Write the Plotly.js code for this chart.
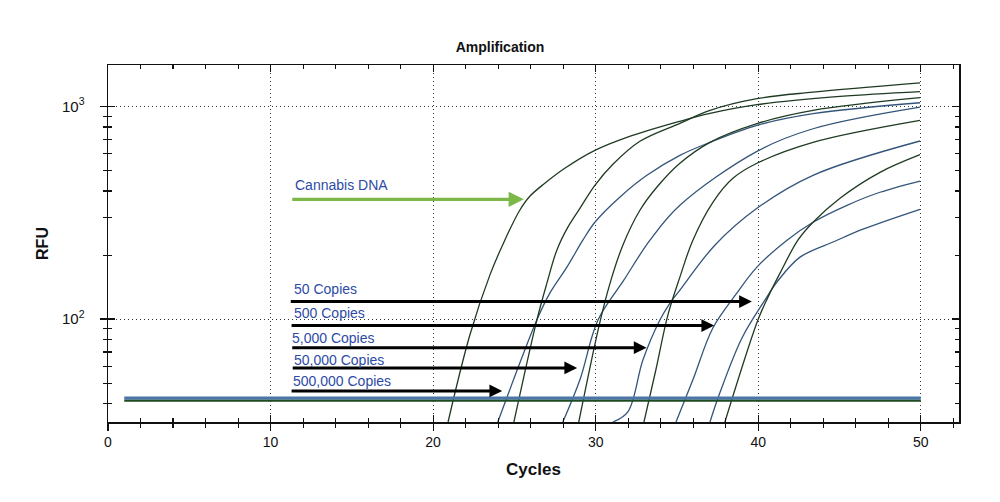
<!DOCTYPE html>
<html><head><meta charset="utf-8">
<script src="https://cdn.plot.ly/plotly-3.0.1.min.js"></script>
<style>html,body{margin:0;padding:0;background:#fff}#chart{width:1000px;height:502px}</style>
</head><body><div id="chart"></div>
<script>
// ---- data ----
const c1Cycles = [20.92, 22.26, 23.49, 24.41, 25.33, 25.95, 26.87, 28.1, 29.95, 31.92, 35.18, 37.03, 39.92, 45.03, 49.95];
const c1Rfu    = [32.8, 84.1, 160.9, 235, 324.9, 378.1, 435, 511.7, 621, 715, 851, 927, 1019, 1114, 1175];
const c2Cycles = [23.98, 26.38, 27.18, 28.23, 29.21, 29.95, 31.48, 33.15, 35.18, 37.03, 39.92, 43.37, 49.95];
const c2Rfu    = [32.8, 98.9, 132.4, 175.5, 235, 285.3, 374.2, 474.2, 588.6, 677.6, 814.7, 924.6, 1040.8];
const c3Cycles = [24.97, 26.38, 27.0, 27.61, 28.29, 29.03, 29.95, 31.06, 32.72, 35.18, 37.03, 39.92, 43.37, 49.95];
const c3Rfu    = [32.8, 98.9, 147.5, 210.9, 270.5, 331.8, 425.6, 534.3, 685.5, 832.6, 957.7, 1087, 1167.5, 1291];
const c4Cycles = [27.98, 29.03, 30.14, 31.73, 33.34, 35.18, 39.92, 43.37, 49.95];
const c4Rfu    = [32.8, 51.8, 98.9, 152.4, 235, 342.8, 614.8, 785.2, 992.5];
const c5Cycles = [28.96, 30.26, 30.94, 31.67, 32.72, 33.76, 35.18, 37.03, 39.92, 43.37, 49.95];
const c5Rfu    = [32.8, 96.8, 152.4, 222.5, 324.9, 416.6, 540.1, 677.6, 830, 957.7, 1099];
const c6Cycles = [31.06, 31.98, 32.91, 33.95, 34.57, 35.18, 37.33, 39.92, 43.37, 49.95];
const c6Rfu    = [32.8, 36.6, 64.3, 98.9, 118.8, 136.8, 222.5, 331.8, 474.2, 687.7];
const c7Cycles = [32.97, 33.7, 34.44, 35.18, 35.98, 37.21, 38.44, 39.92, 43.37, 49.95];
const c7Rfu    = [32.8, 57.6, 104.4, 157.5, 235, 354.2, 459, 540.2, 677.6, 859.6];
const c8Cycles = [34.94, 35.98, 37.21, 38.68, 39.92, 41.77, 43.37, 45.46, 47.49, 49.95];
const c8Rfu    = [32.8, 51.8, 90.8, 132.4, 175.5, 235, 285.3, 342.8, 394.8, 445.9];
const c9Cycles = [37.03, 37.64, 39.0, 40.41, 41.15, 42.57, 44.72, 46.44, 49.95];
const c9Rfu    = [32.8, 45.0, 81.5, 122.8, 149.3, 195.5, 232.3, 264.6, 328.3];
const c10Cycles = [37.95, 39.98, 40.60, 41.34, 42.44, 43.37, 45.03, 47.49, 49.95];
const c10Rfu    = [32.8, 98.9, 126.8, 164.4, 235, 285.3, 370, 489.8, 592.9];

const baselineCycles = [1, 50];
const baselineBlueRfu = [42.44, 42.44];
const baselineGreenRfu = [41.3, 41.3];

const arrowLabels = ['50 Copies', '500 Copies', '5,000 Copies', '50,000 Copies', '500,000 Copies'];
const arrowStartCycle = [11.15, 11.2, 11.24, 11.27, 11.2];
const arrowEndCycle = [39.61, 37.29, 33.13, 28.86, 24.25];
const arrowRfu = [120.8, 93.2, 73.3, 58.9, 45.9];
const labelCycle = [11.3, 11.3, 11.2, 11.3, 11.25];
const labelRfu = [138.3, 106.7, 81.5, 64.5, 51.2];

const dnaLabel = 'Cannabis DNA';
const dnaStartCycle = 11.24, dnaEndCycle = 25.58, dnaRfu = 365.8;
const dnaLabelCycle = 11.36, dnaLabelRfu = 425.6;

const xTickVals = [0, 10, 20, 30, 40, 50];
const xTickText = ['0', '10', '20', '30', '40', '50'];
const xMinorVals = [2,4,6,8,12,14,16,18,22,24,26,28,32,34,36,38,42,44,46,48,52];
const yTickVals = [100, 1000];
const yTickText = ['10<sup>2</sup>', '10<sup>3</sup>'];
const yMinorVals = [40,50,60,70,80,90,200,300,400,500,600,700,800,900];

// ---- styling ----
const GREEN = '#1f3a22', BLUE = '#34557a';
const FONT = 'Liberation Sans, Arial, Helvetica, sans-serif';
const curves = [
  [c1Cycles, c1Rfu, GREEN], [c2Cycles, c2Rfu, BLUE], [c3Cycles, c3Rfu, GREEN],
  [c4Cycles, c4Rfu, BLUE], [c5Cycles, c5Rfu, GREEN], [c6Cycles, c6Rfu, BLUE],
  [c7Cycles, c7Rfu, GREEN], [c8Cycles, c8Rfu, BLUE], [c9Cycles, c9Rfu, BLUE],
  [c10Cycles, c10Rfu, GREEN]
];
const traces = curves.map(c => ({
  x: c[0], y: c[1], type: 'scatter', mode: 'lines',
  line: {color: c[2], width: 1.3, shape: 'spline', smoothing: 1.0},
  hoverinfo: 'skip', xaxis: 'x', yaxis: 'y'
}));
traces.push({x: baselineCycles, y: baselineBlueRfu, type: 'scatter', mode: 'lines',
  line: {color: '#4a76a8', width: 3.2}, hoverinfo: 'skip', xaxis: 'x2', yaxis: 'y2'});
traces.push({x: baselineCycles, y: baselineGreenRfu, type: 'scatter', mode: 'lines',
  line: {color: '#1e4a22', width: 2}, hoverinfo: 'skip', xaxis: 'x2', yaxis: 'y2'});

const xRange = [0, 52.35];
const yRange = [Math.log10(32.8), 3.1948];

const annotations = [];
arrowLabels.forEach((lab, i) => {
  annotations.push({
    x: arrowEndCycle[i], y: Math.log10(arrowRfu[i]), xref: 'x', yref: 'y',
    ax: arrowStartCycle[i], ay: Math.log10(arrowRfu[i]), axref: 'x', ayref: 'y',
    showarrow: true, arrowhead: 2, arrowsize: 0.85, arrowwidth: 3, arrowcolor: '#000',
    standoff: 0, startstandoff: 0, text: ''
  });
  annotations.push({
    x: labelCycle[i], y: Math.log10(labelRfu[i]), xref: 'x', yref: 'y',
    text: lab, showarrow: false, xanchor: 'left', yanchor: 'middle',
    font: {family: FONT, size: 14, color: '#2d4ba6'}
  });
});
annotations.push({
  x: dnaEndCycle, y: Math.log10(dnaRfu), xref: 'x', yref: 'y',
  ax: dnaStartCycle, ay: Math.log10(dnaRfu), axref: 'x', ayref: 'y',
  showarrow: true, arrowhead: 2, arrowsize: 0.95, arrowwidth: 3.2, arrowcolor: '#7cb848',
  standoff: 0, text: ''
});
annotations.push({
  x: dnaLabelCycle, y: Math.log10(dnaLabelRfu), xref: 'x', yref: 'y',
  text: dnaLabel, showarrow: false, xanchor: 'left', yanchor: 'middle',
  font: {family: FONT, size: 14, color: '#2d4ba6'}
});

const gridStyle = {showgrid: true, gridcolor: '#333', gridwidth: 1, griddash: '1px,3px'};
const layout = {
  width: 1000, height: 502,
  margin: {l: 108, r: 41, t: 64.5, b: 80},
  paper_bgcolor: '#fff', plot_bgcolor: '#fff',
  showlegend: false,
  font: {family: FONT, color: '#111'},
  title: {text: '<b>Amplification</b>', font: {family: FONT, size: 14, color: '#111'},
    x: 0.5, xanchor: 'center', xref: 'container', y: 1 - 47 / 502, yanchor: 'middle', yref: 'container'},
  xaxis: Object.assign({
    range: xRange, showline: true, linecolor: '#111', linewidth: 1.5, mirror: false,
    ticks: 'outside', ticklen: 7, tickwidth: 1.2, tickcolor: '#111',
    tickmode: 'array', tickvals: xTickVals, ticktext: xTickText,
    tickfont: {family: FONT, size: 14, color: '#111'}, ticklabelstandoff: 0,
    zeroline: false, automargin: false,
    minor: {tickmode: 'array', tickvals: xMinorVals, ticks: 'outside', ticklen: 4, tickwidth: 1.1, tickcolor: '#111', showgrid: false},
    title: {text: '<b>Cycles</b>', font: {family: FONT, size: 17, color: '#111'}, standoff: 14}
  }, gridStyle),
  yaxis: Object.assign({
    type: 'log', range: yRange, showline: true, linecolor: '#111', linewidth: 1.5, mirror: false,
    ticks: 'outside', ticklen: 7, tickwidth: 1.2, tickcolor: '#111',
    tickmode: 'array', tickvals: yTickVals, ticktext: yTickText,
    tickfont: {family: FONT, size: 15, color: '#111'}, ticklabelstandoff: 12,
    zeroline: false, automargin: false,
    minor: {tickmode: 'array', tickvals: yMinorVals, ticks: 'outside', ticklen: 4, tickwidth: 1.1, tickcolor: '#111', showgrid: false},
    title: {text: '<b>RFU</b>', font: {family: FONT, size: 16, color: '#111'}, standoff: 9}
  }, gridStyle),
  xaxis2: {
    overlaying: 'x', anchor: 'y2', range: xRange, showline: true, linecolor: '#111', linewidth: 1.5,
    mirror: 'ticks', ticks: 'inside', ticklen: 7, tickwidth: 1.2, tickcolor: '#111',
    tickmode: 'array', tickvals: xTickVals, showticklabels: false, showgrid: false, zeroline: false,
    minor: {tickmode: 'array', tickvals: xMinorVals, ticks: 'inside', ticklen: 4, tickwidth: 1.1, tickcolor: '#111', showgrid: false}
  },
  yaxis2: {
    overlaying: 'y', anchor: 'x2', type: 'log', range: yRange, showline: true, linecolor: '#111', linewidth: 1.5,
    mirror: 'ticks', ticks: 'inside', ticklen: 7, tickwidth: 1.2, tickcolor: '#111',
    tickmode: 'array', tickvals: yTickVals, showticklabels: false, showgrid: false, zeroline: false,
    minor: {tickmode: 'array', tickvals: yMinorVals, ticks: 'inside', ticklen: 4, tickwidth: 1.1, tickcolor: '#111', showgrid: false}
  },
  annotations: annotations
};

Plotly.newPlot('chart', traces, layout, {displayModeBar: false, staticPlot: true});
</script>
</body></html>
